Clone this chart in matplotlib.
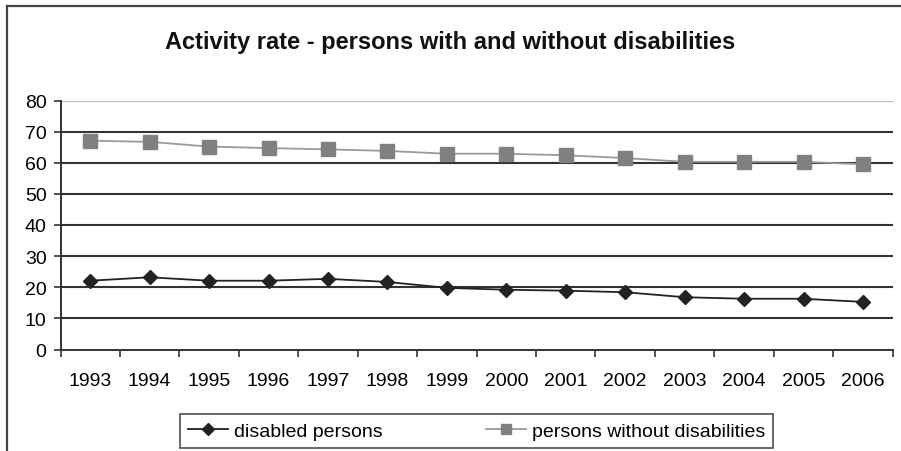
import matplotlib
matplotlib.use("Agg")
import matplotlib.pyplot as plt
from matplotlib.lines import Line2D
import numpy as np

plt.rcParams['font.family'] = ['Liberation Sans', 'DejaVu Sans']

years = ["1993", "1994", "1995", "1996", "1997", "1998", "1999",
         "2000", "2001", "2002", "2003", "2004", "2005", "2006"]
disabled = [22.1, 23.2, 22.1, 22.1, 22.7, 21.7, 19.8,
            19.2, 18.9, 18.4, 16.8, 16.3, 16.3, 15.3]
non_disabled = [67.1, 66.7, 65.2, 64.7, 64.3, 63.8, 62.9,
                62.9, 62.4, 61.5, 60.3, 60.3, 60.3, 59.5]
y_ticks = [0, 10, 20, 30, 40, 50, 60, 70, 80]

W, H = 901, 452
fig = plt.figure(figsize=(W / 100, H / 100), dpi=100)

# outer frame (left and top edges)
fig.add_artist(Line2D([6.5 / W, 6.5 / W], [0, 1 - 7 / H], transform=fig.transFigure,
                      color="#444444", lw=1.6))
fig.add_artist(Line2D([6.5 / W, 1], [1 - 7 / H, 1 - 7 / H], transform=fig.transFigure,
                      color="#444444", lw=1.6))

left, right, top, bottom = 60.5, 892.7, 101.5, 350.5
ax = fig.add_axes([left / W, 1 - bottom / H, (right - left) / W, (bottom - top) / H])

x = np.arange(len(years))
ax.set_xlim(-0.5, len(years) - 0.5)
ax.set_ylim(0, 80)

for v in y_ticks[1:-1]:
    ax.axhline(v, color="#333333", lw=1.5, zorder=1)
ax.axhline(80, color="#bbbbbb", lw=0.9, zorder=1)

ax.plot(x, non_disabled, color="#999999", lw=1.3, marker="s", markersize=10,
        markerfacecolor="#808080", markeredgecolor="#808080", zorder=3,
        label="persons without disabilities")
ax.plot(x, disabled, color="#222222", lw=1.3, marker="D", markersize=7.5,
        markerfacecolor="#222222", markeredgecolor="#222222", zorder=3,
        label="disabled persons")

for s in ["top", "right"]:
    ax.spines[s].set_visible(False)
ax.spines["left"].set_color("#333333")
ax.spines["bottom"].set_color("#333333")
ax.spines["left"].set_linewidth(1.4)
ax.spines["bottom"].set_linewidth(1.4)

ax.set_yticks(y_ticks)
ax.set_yticklabels([str(v) for v in y_ticks])
ax.set_xticks(x)
ax.set_xticklabels(years)
ax.set_xticks(np.arange(len(years) + 1) - 0.5, minor=True)
ax.tick_params(axis="x", which="major", length=0, pad=16, labelsize=14)
ax.tick_params(axis="x", which="minor", length=5, width=1.2, color="#333333")
ax.tick_params(axis="y", length=5, width=1.2, color="#333333", pad=5, labelsize=14)

fig.text(450 / W, 1 - 42 / H, "Activity rate - persons with and without disabilities",
         ha="center", va="center", fontsize=17, fontweight="bold", color="#111111")

handles = [Line2D([], [], color="#222222", lw=1.3, marker="D", markersize=6,
                  markerfacecolor="#222222"),
           Line2D([], [], color="#999999", lw=1.3, marker="s", markersize=7,
                  markerfacecolor="#808080", markeredgecolor="#808080")]
leg = fig.legend(handles, ["disabled persons", "persons without disabilities"],
                 loc="center", bbox_to_anchor=(476.5 / W, 1 - 432 / H), ncol=2,
                 fontsize=14, frameon=True, fancybox=False, edgecolor="#222222",
                 handlelength=2.05, handletextpad=0.3, columnspacing=5.35,
                 borderpad=0.4)
leg.get_frame().set_linewidth(1.2)

fig.savefig("out.png", dpi=100)
